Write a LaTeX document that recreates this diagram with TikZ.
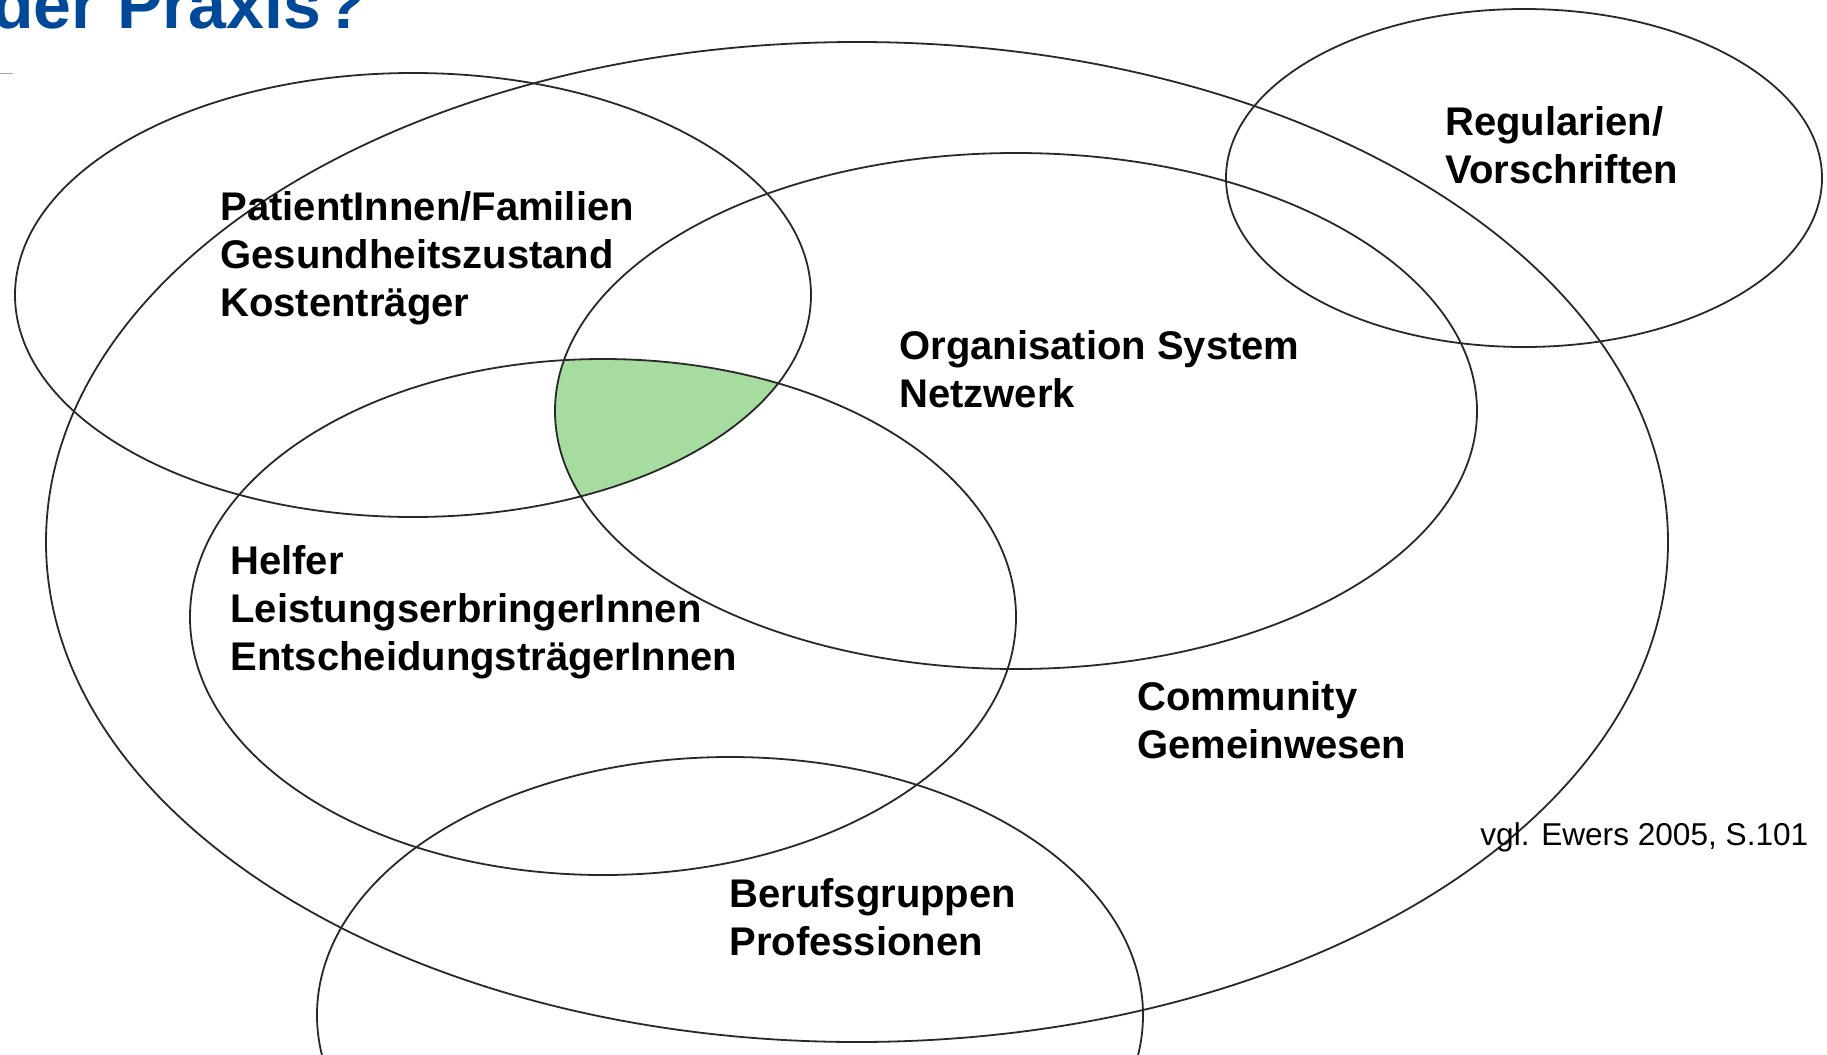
\documentclass[tikz,border=0pt]{standalone}
\usepackage{fontspec}
\setmainfont{Liberation Sans}
\usetikzlibrary{shapes.geometric}
\definecolor{titleblue}{RGB}{0,73,152}
\definecolor{overlapgreen}{RGB}{166,220,160}
\definecolor{ringgray}{RGB}{40,40,40}
\begin{document}
\begin{tikzpicture}[x=0.5pt,y=-0.5pt,
  ring/.style={ellipse, draw=ringgray, line width=0.9pt, inner sep=0pt},
  lbl/.style={anchor=base west, inner sep=0pt, font=\fontsize{20}{24}\selectfont\bfseries},
  cite/.style={anchor=base west, inner sep=0pt, font=\fontsize{15.8}{19}\selectfont}]
  \clip (0,0) rectangle (1827,1055);
  \fill[white] (0,0) rectangle (1827,1055);

  % heading cut by the top edge
  \node[anchor=base west, inner sep=0pt, text=titleblue,
        font=\fontsize{34}{40}\selectfont\bfseries] (title) at (-8,28) {der Praxis\kern1.5pt?};
  \coordinate (ruleA) at (0,73);
  \coordinate (ruleB) at (13,73);
  \draw[gray!70, line width=0.5pt] (ruleA) -- (ruleB);

  % shared area of the three inner circles
  \begin{scope}
    \clip (413,295) ellipse [x radius=199pt, y radius=111pt];
    \clip (1016,411) ellipse [x radius=230.5pt, y radius=129pt];
    \fill[overlapgreen] (603,617) ellipse [x radius=206.5pt, y radius=129pt];
  \end{scope}

  % circles
  \node[ring, minimum width=811pt, minimum height=500pt] (community) at (857,542) {};
  \node[ring, minimum width=398pt, minimum height=222pt] (patients) at (413,295) {};
  \node[ring, minimum width=461pt, minimum height=258pt] (organisation) at (1016,411) {};
  \node[ring, minimum width=413pt, minimum height=258pt] (helpers) at (603,617) {};
  \node[ring, minimum width=413pt, minimum height=258pt] (professions) at (730,1015) {};
  \node[ring, minimum width=298pt, minimum height=169pt] (rules) at (1524,178) {};

  % labels
  \node[lbl] (tPatients) at (220,220) {\begin{tabular}[t]{@{}l@{}}PatientInnen/Familien\\Gesundheitszustand\\Kostenträger\end{tabular}};
  \node[lbl] (tOrg) at (899,359) {\begin{tabular}[t]{@{}l@{}}Organisation System\\Netzwerk\end{tabular}};
  \node[lbl] (tRules) at (1445,135) {\begin{tabular}[t]{@{}l@{}}Regularien/\\Vorschriften\end{tabular}};
  \node[lbl] (tHelpers) at (230,574) {\begin{tabular}[t]{@{}l@{}}Helfer\\LeistungserbringerInnen\\EntscheidungsträgerInnen\end{tabular}};
  \node[lbl] (tCommunity) at (1137,710) {\begin{tabular}[t]{@{}l@{}}Community\\Gemeinwesen\end{tabular}};
  \node[lbl] (tProf) at (729,907) {\begin{tabular}[t]{@{}l@{}}Berufsgruppen\\Professionen\end{tabular}};
  \node[cite] (source) at (1480,845) {vgl. Ewers 2005, S.101};
\end{tikzpicture}
\end{document}
